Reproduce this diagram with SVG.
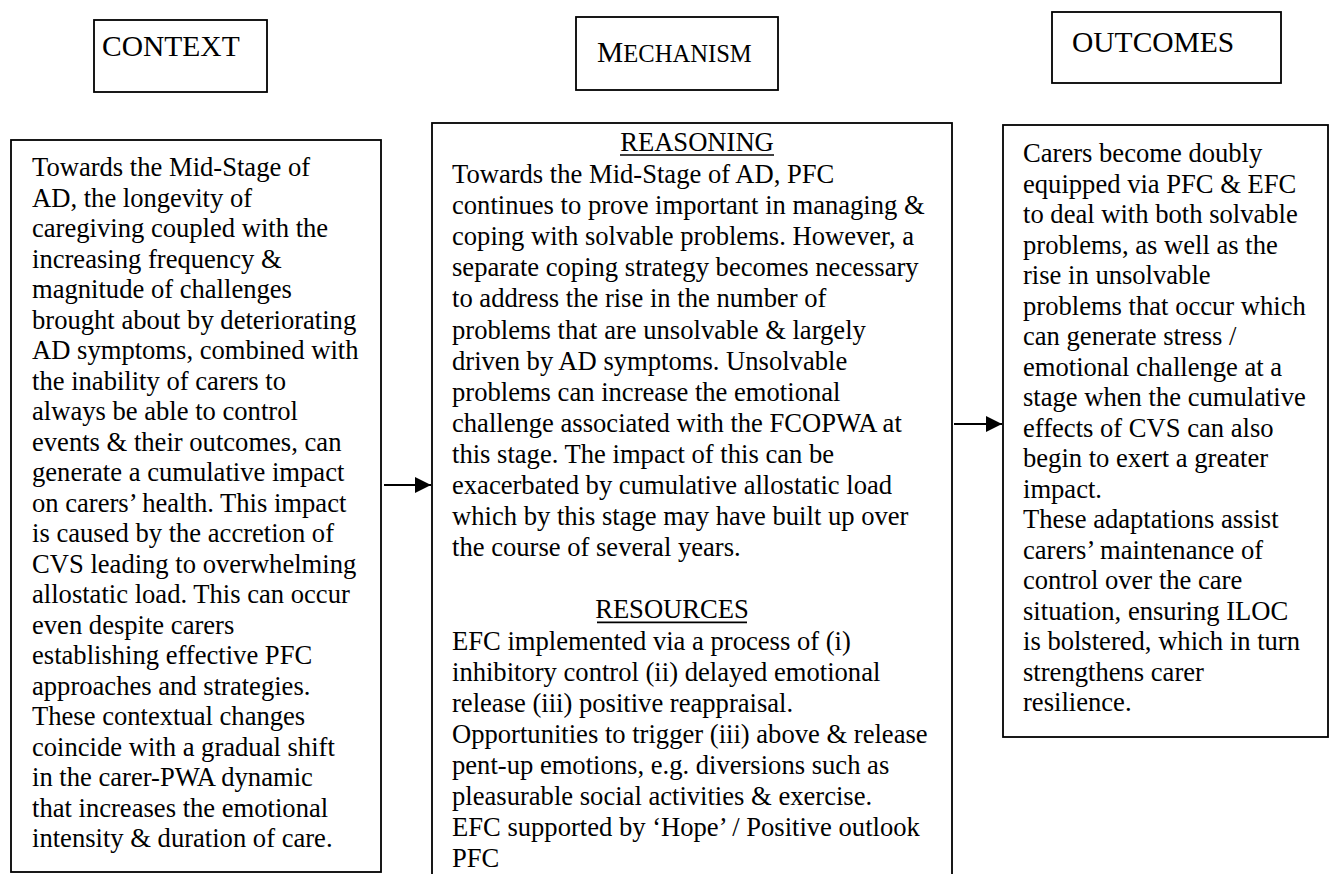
<svg xmlns="http://www.w3.org/2000/svg" width="1330" height="874" viewBox="0 0 1330 874">
<style>
  .box { fill: #ffffff; stroke: #000000; stroke-width: 1.8; }
  .hdr { font-family: "Liberation Serif", "Times New Roman", serif; font-size: 29.5px; fill: #000000; }
  .txt { font-family: "Liberation Serif", "Times New Roman", serif; font-size: 26.6px; fill: #000000; }
  .conn { stroke: #000000; stroke-width: 1.8; fill: none; }
  .ul { stroke: #000000; stroke-width: 1.6; }
</style>
<defs>
  <marker id="arrowhead" viewBox="0 0 16 16" refX="16" refY="8" markerWidth="16" markerHeight="16" markerUnits="userSpaceOnUse" orient="auto">
    <path d="M0,0 L16,8 L0,16 Z" fill="#000000"/>
  </marker>
</defs>
<rect x="0" y="0" width="1330" height="874" fill="#ffffff"/>

<g id="header-context">
  <rect class="box" x="94" y="20" width="173" height="72"/>
  <text class="hdr" x="102" y="56">CONTEXT</text>
</g>
<g id="header-mechanism">
  <rect class="box" x="576" y="17" width="202" height="73"/>
  <text class="hdr" x="597" y="62">M<tspan font-size="24.6px">ECHANISM</tspan></text>
</g>
<g id="header-outcomes">
  <rect class="box" x="1052" y="12" width="229" height="71"/>
  <text class="hdr" x="1072" y="52">OUTCOMES</text>
</g>

<g id="context">
  <rect class="box" x="11" y="140" width="370" height="732"/>
  <text class="txt">
    <tspan x="32" y="176">Towards the Mid-Stage of</tspan>
    <tspan x="32" y="206.5">AD, the longevity of</tspan>
    <tspan x="32" y="237">caregiving coupled with the</tspan>
    <tspan x="32" y="267.5">increasing frequency &amp;</tspan>
    <tspan x="32" y="298">magnitude of challenges</tspan>
    <tspan x="32" y="328.5">brought about by deteriorating</tspan>
    <tspan x="32" y="359">AD symptoms, combined with</tspan>
    <tspan x="32" y="389.5">the inability of carers to</tspan>
    <tspan x="32" y="420">always be able to control</tspan>
    <tspan x="32" y="450.5">events &amp; their outcomes, can</tspan>
    <tspan x="32" y="481">generate a cumulative impact</tspan>
    <tspan x="32" y="511.5">on carers’ health. This impact</tspan>
    <tspan x="32" y="542">is caused by the accretion of</tspan>
    <tspan x="32" y="572.5">CVS leading to overwhelming</tspan>
    <tspan x="32" y="603">allostatic load. This can occur</tspan>
    <tspan x="32" y="633.5">even despite carers</tspan>
    <tspan x="32" y="664">establishing effective PFC</tspan>
    <tspan x="32" y="694.5">approaches and strategies.</tspan>
    <tspan x="32" y="725">These contextual changes</tspan>
    <tspan x="32" y="755.5">coincide with a gradual shift</tspan>
    <tspan x="32" y="786">in the carer-PWA dynamic</tspan>
    <tspan x="32" y="816.5">that increases the emotional</tspan>
    <tspan x="32" y="847">intensity &amp; duration of care.</tspan>
  </text>
</g>

<g id="mechanism">
  <rect class="box" x="432" y="123" width="520" height="760"/>
  <text class="txt" x="697" y="151" text-anchor="middle">REASONING</text>
  <line class="ul" x1="620" y1="155" x2="774" y2="155"/>
  <text class="txt">
    <tspan x="452" y="183">Towards the Mid-Stage of AD, PFC</tspan>
    <tspan x="452" y="214.1">continues to prove important in managing &amp;</tspan>
    <tspan x="452" y="245.2">coping with solvable problems. However, a</tspan>
    <tspan x="452" y="276.3">separate coping strategy becomes necessary</tspan>
    <tspan x="452" y="307.4">to address the rise in the number of</tspan>
    <tspan x="452" y="338.5">problems that are unsolvable &amp; largely</tspan>
    <tspan x="452" y="369.6">driven by AD symptoms. Unsolvable</tspan>
    <tspan x="452" y="400.7">problems can increase the emotional</tspan>
    <tspan x="452" y="431.8">challenge associated with the FCOPWA at</tspan>
    <tspan x="452" y="462.9">this stage. The impact of this can be</tspan>
    <tspan x="452" y="494">exacerbated by cumulative allostatic load</tspan>
    <tspan x="452" y="525.1">which by this stage may have built up over</tspan>
    <tspan x="452" y="556.2">the course of several years.</tspan>
  </text>
  <text class="txt" x="672" y="618.4" text-anchor="middle">RESOURCES</text>
  <line class="ul" x1="597" y1="622.4" x2="747" y2="622.4"/>
  <text class="txt">
    <tspan x="452" y="649.5">EFC implemented via a process of (i)</tspan>
    <tspan x="452" y="680.6">inhibitory control (ii) delayed emotional</tspan>
    <tspan x="452" y="711.7">release (iii) positive reappraisal.</tspan>
    <tspan x="452" y="742.8">Opportunities to trigger (iii) above &amp; release</tspan>
    <tspan x="452" y="773.9">pent-up emotions, e.g. diversions such as</tspan>
    <tspan x="452" y="805">pleasurable social activities &amp; exercise.</tspan>
    <tspan x="452" y="836.1">EFC supported by ‘Hope’ / Positive outlook</tspan>
    <tspan x="452" y="866.5">PFC</tspan>
  </text>
</g>

<g id="outcomes">
  <rect class="box" x="1003" y="125" width="325" height="612"/>
  <text class="txt">
    <tspan x="1023" y="162">Carers become doubly</tspan>
    <tspan x="1023" y="192.5">equipped via PFC &amp; EFC</tspan>
    <tspan x="1023" y="223">to deal with both solvable</tspan>
    <tspan x="1023" y="253.5">problems, as well as the</tspan>
    <tspan x="1023" y="284">rise in unsolvable</tspan>
    <tspan x="1023" y="314.5">problems that occur which</tspan>
    <tspan x="1023" y="345">can generate stress /</tspan>
    <tspan x="1023" y="375.5">emotional challenge at a</tspan>
    <tspan x="1023" y="406">stage when the cumulative</tspan>
    <tspan x="1023" y="436.5">effects of CVS can also</tspan>
    <tspan x="1023" y="467">begin to exert a greater</tspan>
    <tspan x="1023" y="497.5">impact.</tspan>
    <tspan x="1023" y="528">These adaptations assist</tspan>
    <tspan x="1023" y="558.5">carers’ maintenance of</tspan>
    <tspan x="1023" y="589">control over the care</tspan>
    <tspan x="1023" y="619.5">situation, ensuring ILOC</tspan>
    <tspan x="1023" y="650">is bolstered, which in turn</tspan>
    <tspan x="1023" y="680.5">strengthens carer</tspan>
    <tspan x="1023" y="711">resilience.</tspan>
  </text>
</g>

<g id="connectors">
  <line class="conn" x1="384" y1="485" x2="431" y2="485" marker-end="url(#arrowhead)"/>
  <line class="conn" x1="954" y1="424" x2="1002" y2="424" marker-end="url(#arrowhead)"/>
</g>
</svg>
